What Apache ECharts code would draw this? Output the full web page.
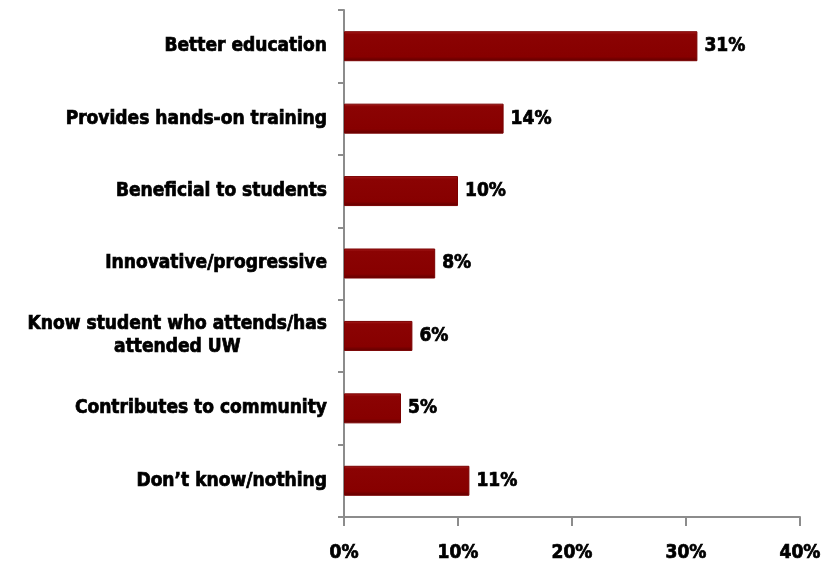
<!DOCTYPE html>
<html>
<head>
<meta charset="utf-8">
<script src="https://cdn.jsdelivr.net/npm/echarts@6/dist/echarts.min.js"></script>
<style>
  html, body { margin: 0; padding: 0; background: #fff; }
  #chart { width: 839px; height: 567px; }
</style>
</head>
<body>
<div id="chart"></div>
<script>
var categories = [
  'Better education',
  'Provides hands-on training',
  'Beneficial to students',
  'Innovative/progressive',
  'Know student who attends/has\nattended UW',
  'Contributes to community',
  'Don\u2019t know/nothing'
];
var values = [31, 14, 10, 8, 6, 5, 11];
var xTicks = [0, 10, 20, 30, 40];

var labelFont = '"DejaVu Sans Condensed", "DejaVu Sans", sans-serif';

var myChart = echarts.init(document.getElementById('chart'));
var option = {
  backgroundColor: '#fff',
  animation: false,
  grid: { left: 344, right: 39, top: 10, bottom: 50 },
  xAxis: {
    type: 'value',
    min: xTicks[0],
    max: xTicks[xTicks.length - 1],
    interval: 10,
    axisLine: { show: true, lineStyle: { color: '#8c8c8c', width: 2 } },
    axisTick: { show: true, length: 9, lineStyle: { color: '#8c8c8c', width: 2 } },
    splitLine: { show: false },
    axisLabel: {
      margin: 27,
      formatter: '{value}%',
      color: '#000',
      fontFamily: labelFont,
      fontWeight: 'bold',
      fontSize: 19,
      textBorderColor: '#000',
      textBorderWidth: 0.7
    }
  },
  yAxis: {
    type: 'category',
    inverse: true,
    data: categories,
    axisLine: { show: true, lineStyle: { color: '#8c8c8c', width: 2 } },
    axisTick: { show: true, length: 6, lineStyle: { color: '#8c8c8c', width: 2 } },
    axisLabel: {
      margin: 17,
      color: '#000',
      formatter: function (v) {
        return v.split('\n').map(function (s) { return '{c|' + s + '}'; }).join('\n');
      },
      rich: {
        c: {
          align: 'center',
          fontFamily: labelFont,
          fontWeight: 'bold',
          fontSize: 19,
          lineHeight: 23,
          color: '#000',
          textBorderColor: '#000',
          textBorderWidth: 0.7
        }
      }
    }
  },
  series: [{
    type: 'bar',
    data: values,
    barWidth: 30,
    itemStyle: {
      color: new echarts.graphic.LinearGradient(0, 0, 0, 1, [
        { offset: 0, color: '#a82020' },
        { offset: 0.1, color: '#8b0303' },
        { offset: 0.85, color: '#870000' },
        { offset: 1, color: '#5e0000' }
      ]),
      borderColor: '#7a0000',
      borderWidth: 1
    },
    label: {
      show: true,
      position: 'right',
      distance: 7,
      formatter: '{c}%',
      color: '#000',
      fontFamily: labelFont,
      fontWeight: 'bold',
      fontSize: 19,
      textBorderColor: '#000',
      textBorderWidth: 0.7
    }
  }]
};
myChart.setOption(option);
</script>
</body>
</html>
